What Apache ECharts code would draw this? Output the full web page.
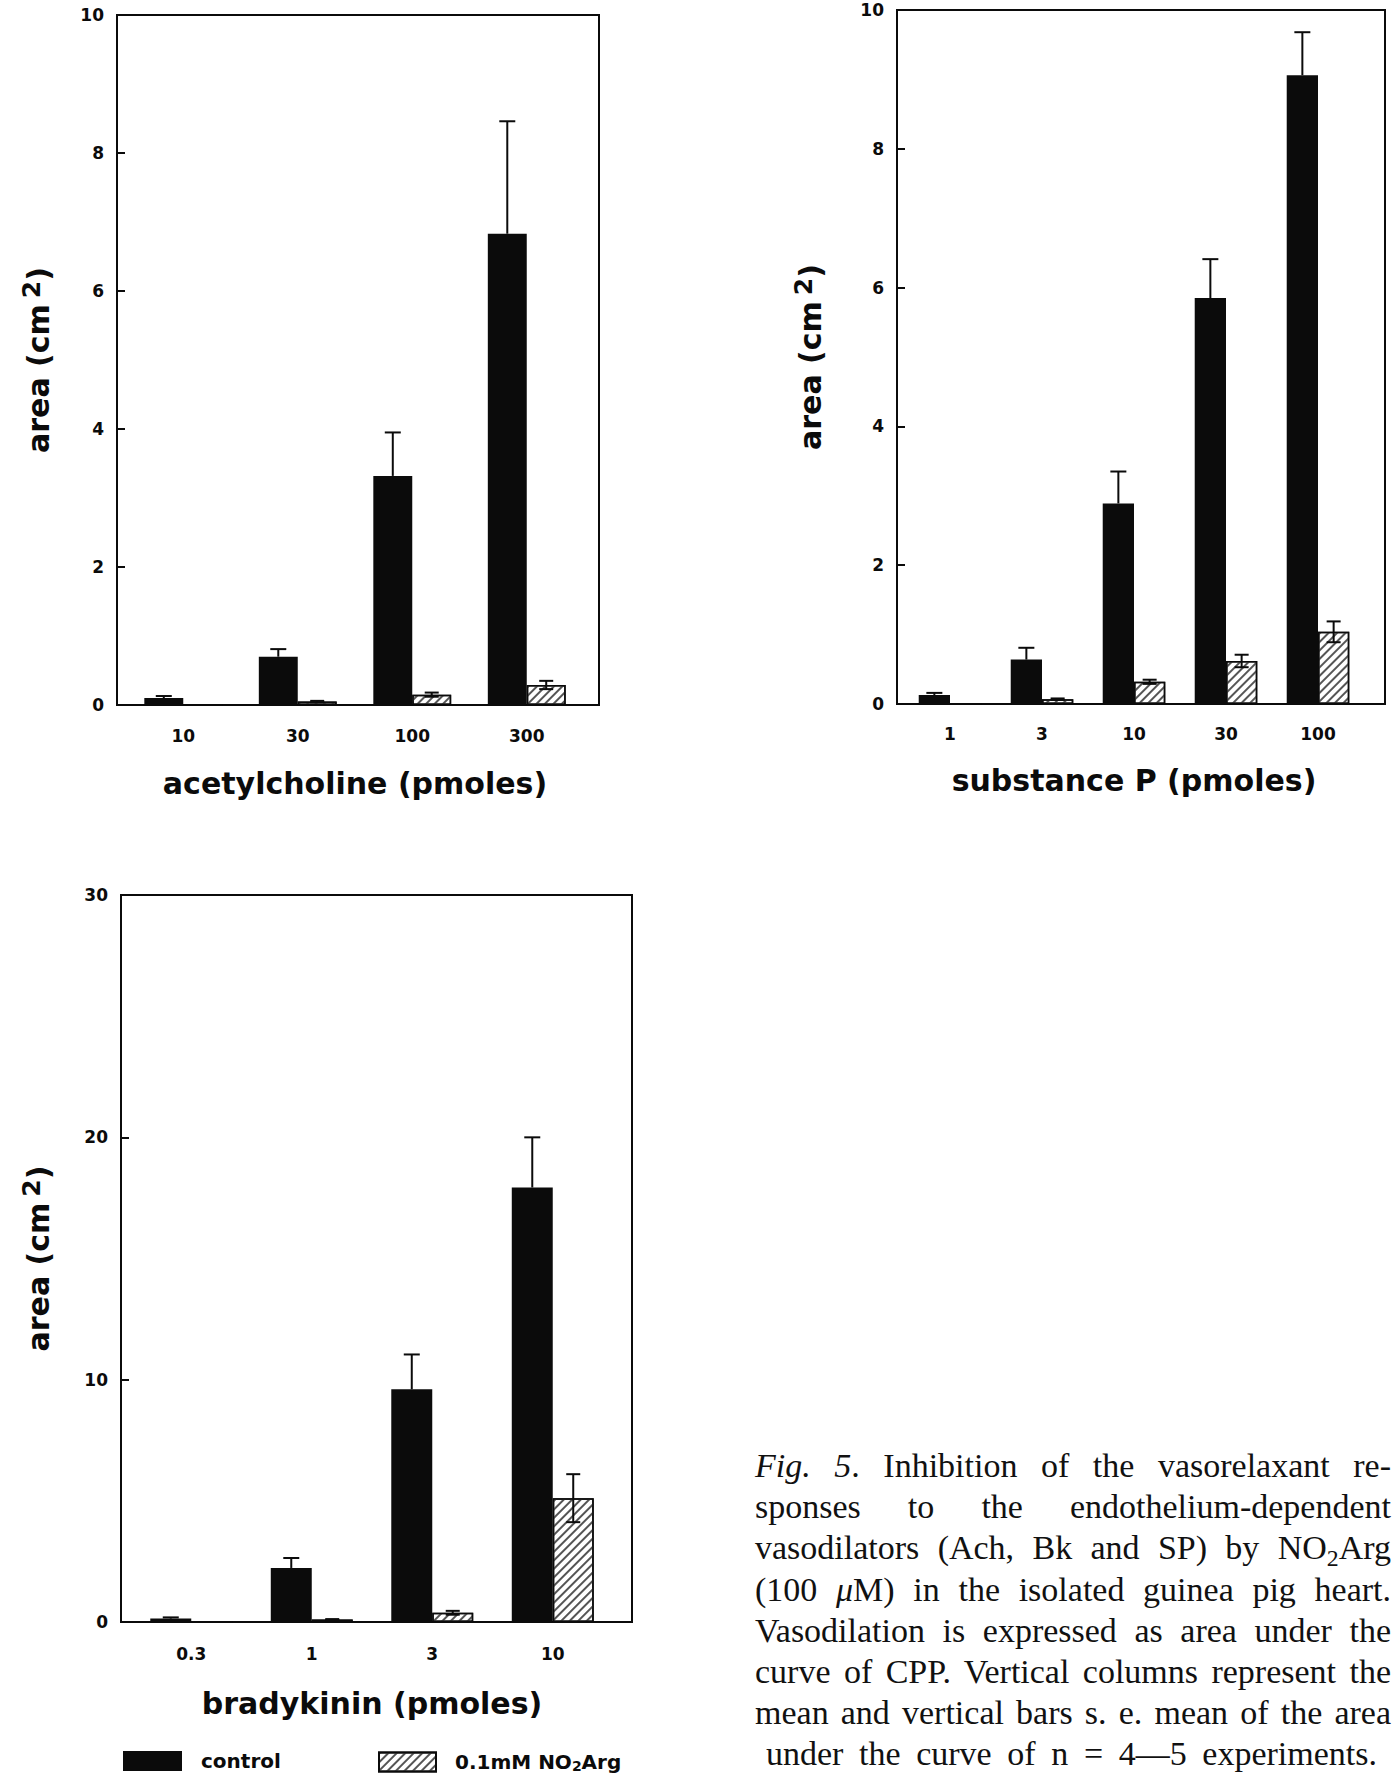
<!DOCTYPE html>
<html>
<head>
<meta charset="utf-8">
<script src="https://cdn.jsdelivr.net/npm/echarts@6/dist/echarts.min.js"></script>
<style>
  html, body { margin: 0; padding: 0; background: #fff; }
  #wrap { position: relative; width: 1393px; height: 1776px; }
  #chart { position: absolute; left: 0; top: 0; width: 1393px; height: 1776px; }
  #caption { position: absolute; left: 755px; top: 1445px; width: 636px;
    font-family: 'Liberation Serif', serif; font-size: 34px; line-height: 41.2px; color: #111; }
  #caption div { white-space: nowrap; text-align: justify; text-align-last: justify; }
  #caption sub { font-size: 0.7em; line-height: 0; vertical-align: -0.28em; }
  #caption .last { padding: 0 14px 0 11px; }
</style>
</head>
<body>
<div id="wrap">
  <div id="chart"></div>
  <div id="caption">
    <div><i>Fig. 5</i>. Inhibition of the vasorelaxant re-</div>
    <div>sponses to the endothelium-dependent</div>
    <div>vasodilators (Ach, Bk and SP) by NO<sub>2</sub>Arg</div>
    <div>(100 <i>μ</i>M) in the isolated guinea pig heart.</div>
    <div>Vasodilation is expressed as area under the</div>
    <div>curve of CPP. Vertical columns represent the</div>
    <div>mean and vertical bars s. e. mean of the area</div>
    <div class="last">under the curve of n = 4—5 experiments.</div>
  </div>
</div>
<script>
const FONT = 'DejaVu Sans';
const INK = '#0b0b0b';
const BAR_FRAC = 0.34;

// acetylcholine panel (area, cm2)
const achDoses = ['10', '30', '100', '300'];
const achControl = [0.10, 0.70, 3.32, 6.83];
const achControlSE = [0.03, 0.11, 0.63, 1.63];
const achNO2Arg = [0, 0.05, 0.15, 0.29];
const achNO2ArgSE = [0, 0.01, 0.03, 0.06];

// substance P panel
const spDoses = ['1', '3', '10', '30', '100'];
const spControl = [0.13, 0.64, 2.89, 5.85, 9.06];
const spControlSE = [0.03, 0.17, 0.46, 0.56, 0.62];
const spNO2Arg = [0, 0.07, 0.32, 0.62, 1.04];
const spNO2ArgSE = [0, 0.01, 0.03, 0.09, 0.15];

// bradykinin panel
const bkDoses = ['0.3', '1', '3', '10'];
const bkControl = [0.14, 2.23, 9.6, 17.93];
const bkControlSE = [0.05, 0.41, 1.44, 2.07];
const bkNO2Arg = [0, 0.1, 0.38, 5.11];
const bkNO2ArgSE = [0, 0.02, 0.08, 0.99];

// y axis ticks: [max, step]
const achTicks = [10, 2];
const spTicks = [10, 2];
const bkTicks = [30, 10];

const CONTROL = 'control';
const NO2ARG = '0.1mM NO2Arg';

const panels = [
  { doses: achDoses, control: achControl, controlSE: achControlSE, no2: achNO2Arg, no2SE: achNO2ArgSE,
    ticks: achTicks, xName: 'acetylcholine (pmoles)',
    frame: { left: 117, top: 15, width: 482, height: 690 }, plotLeft: 126, plotWidth: 458,
    labelMargin: 22, xNameGap: 63, yNameGap: 60 },
  { doses: spDoses, control: spControl, controlSE: spControlSE, no2: spNO2Arg, no2SE: spNO2ArgSE,
    ticks: spTicks, xName: 'substance P (pmoles)',
    frame: { left: 897, top: 10, width: 488, height: 694 }, plotLeft: 904, plotWidth: 460,
    labelMargin: 21, xNameGap: 61, yNameGap: 68 },
  { doses: bkDoses, control: bkControl, controlSE: bkControlSE, no2: bkNO2Arg, no2SE: bkNO2ArgSE,
    ticks: bkTicks, xName: 'bradykinin (pmoles)',
    frame: { left: 121, top: 895, width: 511, height: 727 }, plotLeft: 131, plotWidth: 482,
    labelMargin: 23, xNameGap: 66, yNameGap: 64 }
];

const HATCH = {
  symbol: 'rect', symbolSize: 1,
  dashArrayX: [1, 0], dashArrayY: [1.2, 3.8],
  rotation: -Math.PI / 4,
  color: '#555', backgroundColor: '#fff'
};

const tickFont = { fontFamily: FONT, fontWeight: 'bold', fontSize: 17, color: INK };
const nameFont = { fontFamily: FONT, fontWeight: 'bold', fontSize: 30, color: INK };

function seBars(name, i, means, ses, side, twoSided, capHalf) {
  return {
    type: 'custom', name, xAxisIndex: i, yAxisIndex: i, z: 4, silent: true,
    data: means.map((m, k) => [k, m, ses[k]]),
    encode: { x: 0, y: 1 },
    renderItem(params, api) {
      const k = api.value(0), m = api.value(1), se = api.value(2);
      if (!se) return null;
      const dx = side * api.size([1, 0])[0] * BAR_FRAC / 2;
      const hi = api.coord([k, m + se]);
      const lo = api.coord([k, twoSided ? m - se : m]);
      const x = hi[0] + dx;
      const st = { stroke: INK, lineWidth: 2 };
      const children = [
        { type: 'line', shape: { x1: x, y1: lo[1], x2: x, y2: hi[1] }, style: st },
        { type: 'line', shape: { x1: x - capHalf, y1: hi[1], x2: x + capHalf, y2: hi[1] }, style: st }
      ];
      if (twoSided) {
        children.push({ type: 'line', shape: { x1: x - capHalf, y1: lo[1], x2: x + capHalf, y2: lo[1] }, style: st });
      }
      return { type: 'group', children };
    }
  };
}

const grid = [], xAxis = [], yAxis = [], series = [];

panels.forEach((p, i) => {
  grid.push({ left: p.plotLeft, top: p.frame.top, width: p.plotWidth, height: p.frame.height,
    outerBoundsMode: 'none' });
  xAxis.push({
    gridIndex: i, type: 'category', data: p.doses,
    axisLine: { show: false }, axisTick: { show: false },
    axisLabel: Object.assign({ margin: p.labelMargin }, tickFont),
    name: p.xName, nameLocation: 'middle', nameGap: p.xNameGap, nameTextStyle: nameFont
  });
  yAxis.push({
    gridIndex: i, type: 'value', min: 0, max: p.ticks[0], interval: p.ticks[1],
    offset: p.plotLeft - p.frame.left,
    axisLine: { show: false },
    axisTick: { show: true, inside: true, length: 8, lineStyle: { color: INK, width: 2 } },
    splitLine: { show: false },
    axisLabel: Object.assign({ margin: 13 }, tickFont),
    name: 'area (cm{s|2})', nameLocation: 'middle', nameRotate: 90, nameGap: p.yNameGap,
    nameTextStyle: Object.assign({ lineHeight: 38, rich: {
      s: { fontFamily: FONT, fontWeight: 'bold', fontSize: 25, color: INK, lineHeight: 22,
           verticalAlign: 'top', padding: [0, 0, 0, 6] }
    } }, nameFont)
  });
  series.push(
    { type: 'bar', name: CONTROL, xAxisIndex: i, yAxisIndex: i, data: p.control,
      barWidth: (BAR_FRAC * 100) + '%', barGap: '0%', silent: true,
      itemStyle: { color: INK } },
    { type: 'bar', name: NO2ARG, xAxisIndex: i, yAxisIndex: i, data: p.no2,
      barWidth: (BAR_FRAC * 100) + '%', barGap: '0%', silent: true,
      itemStyle: { color: '#fff', borderColor: INK, borderWidth: 1.5, decal: HATCH } },
    seBars('control s.e.', i, p.control, p.controlSE, -1, false, 8),
    seBars('NO2Arg s.e.', i, p.no2, p.no2SE, 1, true, 7)
  );
});

// frames drawn as separate bordered grids
panels.forEach((p, i) => {
  grid.push(Object.assign({ show: true, borderColor: INK, borderWidth: 2,
    backgroundColor: 'transparent', outerBoundsMode: 'none' }, p.frame));
  xAxis.push({ gridIndex: 3 + i, type: 'value', min: 0, max: 1, show: false });
  yAxis.push({ gridIndex: 3 + i, type: 'value', min: 0, max: 1, show: false });
});

const legendText = { fontFamily: FONT, fontWeight: 'bold', fontSize: 20, color: INK, lineHeight: 22 };

const chart = echarts.init(document.getElementById('chart'), null, { renderer: 'svg' });
chart.setOption({
  backgroundColor: '#fff',
  animation: false,
  grid, xAxis, yAxis, series,
  legend: [
    { data: [CONTROL], left: 123, top: 1750, padding: 0, itemWidth: 59, itemHeight: 20, icon: 'rect',
      selectedMode: false, textStyle: Object.assign({ padding: [0, 0, 0, 14] }, legendText) },
    { data: [NO2ARG], left: 378, top: 1751, padding: 0, itemWidth: 57, itemHeight: 19, icon: 'rect',
      selectedMode: false,
      formatter: () => '0.1mM NO{sub|2}Arg',
      textStyle: Object.assign({ padding: [0, 0, 0, 14], rich: {
        sub: { fontFamily: FONT, fontWeight: 'bold', fontSize: 14, color: INK, lineHeight: 14,
               verticalAlign: 'bottom' }
      } }, legendText) }
  ]
});
</script>
</body>
</html>
